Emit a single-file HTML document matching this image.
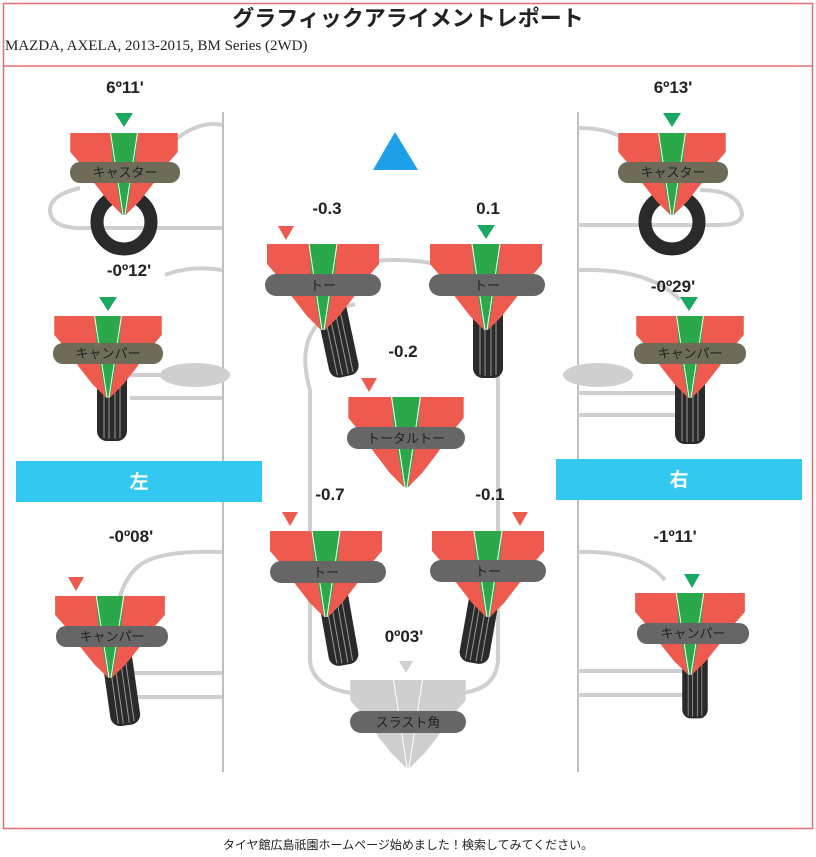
<!DOCTYPE html>
<html><head><meta charset="utf-8"><style>
body{margin:0;background:#fff;width:816px;height:857px;overflow:hidden}
svg{display:block}
text{font-family:"Liberation Sans","Noto Sans CJK JP",sans-serif}
.v{font-size:17px;font-weight:bold;fill:#222;text-anchor:middle}
.b{font-size:13px;fill:#222;text-anchor:middle}
</style></head><body>
<svg width="816" height="857" viewBox="0 0 816 857">
<defs>
<g id="gz">
<polygon points="-56,0 56,0 56,20 44,34 30,54 16,72 2,86 -2,86 -16,72 -30,54 -44,34 -56,20" fill="#ee5a4e"/>
<polygon points="-14,0 14,0 12,30 7,58 2,86 -2,86 -7,58 -12,30" fill="#2aa84a"/>
<line x1="-14" y1="0" x2="-1" y2="86" stroke="#fff" stroke-width="1"/>
<line x1="14" y1="0" x2="1" y2="86" stroke="#fff" stroke-width="1"/>
</g>
<g id="gy">
<polygon points="-56,0 56,0 56,20 44,34 30,54 16,72 2,86 -2,86 -16,72 -30,54 -44,34 -56,20" fill="#cfcfcf"/>
<line x1="-14" y1="0" x2="-1" y2="86" stroke="#fff" stroke-width="1"/>
<line x1="14" y1="0" x2="1" y2="86" stroke="#fff" stroke-width="1"/>
</g>
<g id="tire">
<rect x="-15" y="0" width="30" height="76" rx="10" fill="#2a2a2a"/>
<line x1="-8" y1="3" x2="-8" y2="73" stroke="#999" stroke-width="1"/>
<line x1="-3" y1="2" x2="-3" y2="74" stroke="#999" stroke-width="1"/>
<line x1="3" y1="2" x2="3" y2="74" stroke="#999" stroke-width="1"/>
<line x1="8" y1="3" x2="8" y2="73" stroke="#999" stroke-width="1"/>
</g>
</defs>
<rect x="3.5" y="3.5" width="809" height="825" fill="none" stroke="#e07070" stroke-width="1.5"/>
<line x1="3" y1="66" x2="813" y2="66" stroke="#e07070" stroke-width="1.5"/>
<text x="408" y="26" font-size="22" font-weight="bold" text-anchor="middle" fill="#222">グラフィックアライメントレポート</text>
<text x="5" y="50" font-size="15" fill="#222" style="font-family:'Liberation Serif',serif">MAZDA, AXELA, 2013-2015, BM Series (2WD)</text>

<g fill="none" stroke="#cfcfcf" stroke-width="4">
<line x1="223" y1="112" x2="223" y2="772" stroke="#aaa" stroke-width="1.5"/>
<line x1="578" y1="112" x2="578" y2="772" stroke="#aaa" stroke-width="1.5"/>
<path d="M222,125 Q200,120 175,140"/>
<path d="M80,188 Q50,195 50,210 Q50,230 90,228 L222,228"/>
<path d="M222,270 Q190,265 165,275"/>
<path d="M130,375 L222,375 M130,398 L222,398"/>
<path d="M222,552 Q160,550 140,565 Q120,580 115,620"/>
<path d="M130,673 L222,673 M130,697 L222,697"/>
<path d="M578,128 Q610,128 625,140 M700,190 Q740,190 742,215 Q740,225 720,225 L578,225"/>
<path d="M578,270 Q650,268 680,300"/>
<path d="M578,393 L690,393 M578,415 L690,415"/>
<path d="M578,552 Q640,550 665,580"/>
<path d="M578,671 L690,671 M578,695 L690,695"/>
<path d="M355,304 Q290,320 310,390 L310,660 Q312,690 360,694"/>
<path d="M340,265 Q400,255 440,265"/>
<path d="M470,310 Q500,320 498,380 L498,660 Q496,690 460,693"/>
</g>
<ellipse cx="195" cy="375" rx="35" ry="12" fill="#cfcfcf"/>
<ellipse cx="598" cy="375" rx="35" ry="12" fill="#cfcfcf"/>

<polygon points="395,132 418,170 373,170" fill="#1ea0e8"/>
<rect x="16" y="461" width="246" height="41" fill="#33c8f0"/>
<text x="139" y="488" font-size="19" font-weight="bold" fill="#fff" text-anchor="middle">左</text>
<rect x="556" y="459" width="246" height="41" fill="#33c8f0"/>
<text x="679" y="486" font-size="19" font-weight="bold" fill="#fff" text-anchor="middle">右</text>

<circle cx="124" cy="222" r="27" fill="none" stroke="#2a2a2a" stroke-width="13"/>
<circle cx="672" cy="222" r="27" fill="none" stroke="#2a2a2a" stroke-width="13"/>
<use href="#tire" transform="translate(112,365)"/>
<use href="#tire" transform="translate(690,368)"/>
<use href="#tire" transform="translate(330,302) rotate(-12)"/>
<use href="#tire" transform="translate(488,302)"/>
<use href="#tire" transform="translate(332,590) rotate(-10)"/>
<use href="#tire" transform="translate(486,588) rotate(10)"/>
<use href="#tire" transform="translate(116,650) rotate(-8)"/>
<use href="#tire" transform="translate(695,650) scale(0.85,0.9)"/>

<use href="#gz" transform="translate(124,133) scale(0.96,0.95)"/>
<use href="#gz" transform="translate(672,133) scale(0.96,0.95)"/>
<use href="#gz" transform="translate(108,316) scale(0.96,0.95)"/>
<use href="#gz" transform="translate(690,316) scale(0.96,0.95)"/>
<use href="#gz" transform="translate(323,244)"/>
<use href="#gz" transform="translate(486,244)"/>
<use href="#gz" transform="translate(406,397) scale(1.03,1.05)"/>
<use href="#gz" transform="translate(326,531)"/>
<use href="#gz" transform="translate(488,531)"/>
<use href="#gz" transform="translate(110,596) scale(0.98,0.95)"/>
<use href="#gz" transform="translate(690,593) scale(0.98,0.95)"/>
<use href="#gy" transform="translate(408,680) scale(1.03,1.02)"/>

<g>
<polygon points="115,113 133,113 124,127" fill="#1aa860"/>
<polygon points="663,113 681,113 672,127" fill="#1aa860"/>
<polygon points="99,297 117,297 108,311" fill="#1aa860"/>
<polygon points="680,297 698,297 689,311" fill="#1aa860"/>
<polygon points="278,226 294,226 286,240" fill="#ee5a4e"/>
<polygon points="477,225 495,225 486,239" fill="#1aa860"/>
<polygon points="361,378 377,378 369,392" fill="#ee5a4e"/>
<polygon points="282,512 298,512 290,526" fill="#ee5a4e"/>
<polygon points="512,512 528,512 520,526" fill="#ee5a4e"/>
<polygon points="68,577 84,577 76,591" fill="#ee5a4e"/>
<polygon points="684,574 700,574 692,588" fill="#1aa860"/>
<polygon points="399,661 413,661 406,673" fill="#cfcfcf"/>
</g>

<g>
<rect x="70" y="162" width="110" height="21" rx="10" fill="#6e6c58"/><text class="b" x="125" y="177">キャスター</text>
<rect x="618" y="162" width="110" height="21" rx="10" fill="#6e6c58"/><text class="b" x="673" y="177">キャスター</text>
<rect x="53" y="343" width="110" height="21" rx="10" fill="#6e6c58"/><text class="b" x="108" y="358">キャンパー</text>
<rect x="634" y="343" width="112" height="21" rx="10" fill="#6e6c58"/><text class="b" x="690" y="358">キャンパー</text>
<rect x="265" y="274" width="116" height="22" rx="11" fill="#666"/><text class="b" x="323" y="290">トー</text>
<rect x="429" y="274" width="116" height="22" rx="11" fill="#666"/><text class="b" x="487" y="290">トー</text>
<rect x="347" y="427" width="118" height="22" rx="11" fill="#666"/><text class="b" x="406" y="443">トータルトー</text>
<rect x="270" y="561" width="116" height="22" rx="11" fill="#666"/><text class="b" x="326" y="577">トー</text>
<rect x="430" y="560" width="116" height="22" rx="11" fill="#666"/><text class="b" x="488" y="576">トー</text>
<rect x="56" y="626" width="112" height="21" rx="10" fill="#666"/><text class="b" x="112" y="641">キャンパー</text>
<rect x="637" y="623" width="112" height="21" rx="10" fill="#666"/><text class="b" x="693" y="638">キャンパー</text>
<rect x="350" y="711" width="116" height="22" rx="11" fill="#666"/><text class="b" x="408" y="727">スラスト角</text>
</g>

<text class="v" x="125" y="93">6º11'</text>
<text class="v" x="673" y="93">6º13'</text>
<text class="v" x="129" y="276">-0º12'</text>
<text class="v" x="673" y="292">-0º29'</text>
<text class="v" x="327" y="214">-0.3</text>
<text class="v" x="488" y="214">0.1</text>
<text class="v" x="403" y="357">-0.2</text>
<text class="v" x="330" y="500">-0.7</text>
<text class="v" x="490" y="500">-0.1</text>
<text class="v" x="131" y="542">-0º08'</text>
<text class="v" x="675" y="542">-1º11'</text>
<text class="v" x="404" y="642">0º03'</text>

<text x="408" y="849" font-size="12" fill="#222" text-anchor="middle">タイヤ館広島祇園ホームページ始めました！検索してみてください。</text>
</svg>
</body></html>
